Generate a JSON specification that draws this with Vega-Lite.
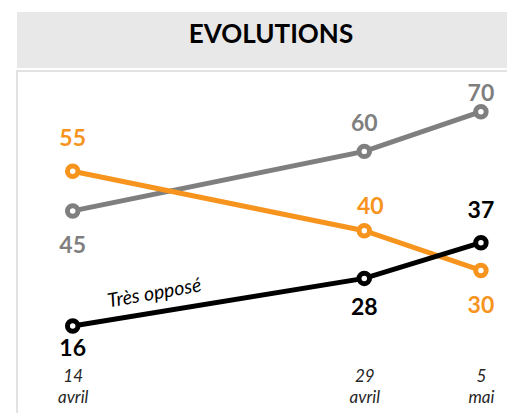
{
  "$schema": "https://vega.github.io/schema/vega-lite/v6.json",
  "padding": {"left": 16, "top": 12, "right": 0, "bottom": 0},
  "background": "white",
  "spacing": 2,
  "config": {"font": "Lato"},
  "datasets": {
    "series": [
      {"serie": "série 1", "date": "2022-04-14", "v": 45},
      {"serie": "série 1", "date": "2022-04-29", "v": 60},
      {"serie": "série 1", "date": "2022-05-05", "v": 70},
      {"serie": "série 2", "date": "2022-04-14", "v": 55},
      {"serie": "série 2", "date": "2022-04-29", "v": 40},
      {"serie": "série 2", "date": "2022-05-05", "v": 30},
      {"serie": "Très opposé", "date": "2022-04-14", "v": 16},
      {"serie": "Très opposé", "date": "2022-04-29", "v": 28},
      {"serie": "Très opposé", "date": "2022-05-05", "v": 37}
    ]
  },
  "vconcat": [
    {
      "width": 508,
      "height": 56,
      "view": {"fill": "#e8e8e8", "stroke": null},
      "data": {"values": [{"titre": "EVOLUTIONS"}]},
      "mark": {"type": "text", "font": "Lato", "fontWeight": "bold", "fontSize": 26, "baseline": "alphabetic", "dy": 3, "color": "#000000"},
      "encoding": {"text": {"field": "titre", "type": "nominal"}}
    },
    {
      "width": 508,
      "height": 350,
      "view": {"stroke": "#d9d9d9", "strokeWidth": 1.5, "fill": "white"},
      "data": {"name": "series"},
      "encoding": {
        "x": {
          "field": "date", "type": "temporal",
          "scale": {"type": "utc", "domain": [1649646864000, 1651904668800], "nice": false},
          "axis": {
            "values": [1649894400000, 1651190400000, 1651708800000],
            "labelExpr": "[''+utcdate(datum.value), utcmonth(datum.value)==3 ? 'avril' : 'mai']",
            "domain": false, "ticks": false, "grid": false,
            "offset": -53, "labelPadding": 0,
            "labelFont": "Lato", "labelFontSize": 17, "labelFontStyle": "italic",
            "labelColor": "#262626", "labelLineHeight": 21, "labelAngle": 0,
            "labelBaseline": "top", "labelFlush": false, "labelOverlap": false,
            "title": null
          }
        },
        "y": {
          "field": "v", "type": "quantitative",
          "scale": {"domain": [-7.93, 80.25], "nice": false, "zero": false},
          "axis": null
        }
      },
      "layer": [
        {
          "mark": {"type": "line"},
          "encoding": {
            "color": {"field": "serie", "type": "nominal", "scale": {"domain": ["série 1", "série 2", "Très opposé"], "range": ["#7F7F7F", "#F7941E", "#000000"]}, "legend": null},
            "strokeWidth": {"field": "serie", "type": "nominal", "scale": {"domain": ["série 1", "série 2", "Très opposé"], "range": [5, 5, 3.2]}, "legend": null}
          }
        },
        {
          "mark": {"type": "point", "shape": "circle", "filled": true, "fill": "white", "size": 110, "opacity": 1},
          "encoding": {
            "stroke": {"field": "serie", "type": "nominal", "scale": {"domain": ["série 1", "série 2", "Très opposé"], "range": ["#7F7F7F", "#F7941E", "#000000"]}, "legend": null},
            "strokeWidth": {"field": "serie", "type": "nominal", "scale": {"domain": ["série 1", "série 2", "Très opposé"], "range": [1.8, 1.8, 3]}, "legend": null}
          }
        },
        {
          "transform": [{"filter": "datum.v == 55 || datum.v == 37"}],
          "mark": {"type": "text", "fontWeight": "bold", "fontSize": 23, "baseline": "middle", "dy": -32},
          "encoding": {"text": {"field": "v", "type": "quantitative"}, "color": {"field": "serie", "type": "nominal", "legend": null}}
        },
        {
          "transform": [{"filter": "datum.v == 60"}],
          "mark": {"type": "text", "fontWeight": "bold", "fontSize": 23, "baseline": "middle", "dy": -27},
          "encoding": {"text": {"field": "v", "type": "quantitative"}, "color": {"field": "serie", "type": "nominal", "legend": null}}
        },
        {
          "transform": [{"filter": "datum.v == 40"}],
          "mark": {"type": "text", "fontWeight": "bold", "fontSize": 23, "baseline": "middle", "dy": -24, "dx": 6},
          "encoding": {"text": {"field": "v", "type": "quantitative"}, "color": {"field": "serie", "type": "nominal", "legend": null}}
        },
        {
          "transform": [{"filter": "datum.v == 70"}],
          "mark": {"type": "text", "fontWeight": "bold", "fontSize": 23, "baseline": "middle", "dy": -18},
          "encoding": {"text": {"field": "v", "type": "quantitative"}, "color": {"field": "serie", "type": "nominal", "legend": null}}
        },
        {
          "transform": [{"filter": "datum.v == 45 || datum.v == 30"}],
          "mark": {"type": "text", "fontWeight": "bold", "fontSize": 23, "baseline": "middle", "dy": 35.5},
          "encoding": {"text": {"field": "v", "type": "quantitative"}, "color": {"field": "serie", "type": "nominal", "legend": null}}
        },
        {
          "transform": [{"filter": "datum.v == 28"}],
          "mark": {"type": "text", "fontWeight": "bold", "fontSize": 23, "baseline": "middle", "dy": 30},
          "encoding": {"text": {"field": "v", "type": "quantitative"}, "color": {"field": "serie", "type": "nominal", "legend": null}}
        },
        {
          "transform": [{"filter": "datum.v == 16"}],
          "mark": {"type": "text", "fontWeight": "bold", "fontSize": 23, "baseline": "middle", "dy": 22.5},
          "encoding": {"text": {"field": "v", "type": "quantitative"}, "color": {"field": "serie", "type": "nominal", "legend": null}}
        },
        {
          "data": {"values": [{"date": "2022-04-18", "v": 22.5, "t": "Très opposé"}]},
          "mark": {"type": "text", "font": "Lato", "fontStyle": "italic", "fontSize": 19.5, "baseline": "alphabetic", "align": "center", "angle": 350, "dx": 5, "color": "#000000"},
          "encoding": {"text": {"field": "t", "type": "nominal"}}
        }
      ]
    }
  ]
}
